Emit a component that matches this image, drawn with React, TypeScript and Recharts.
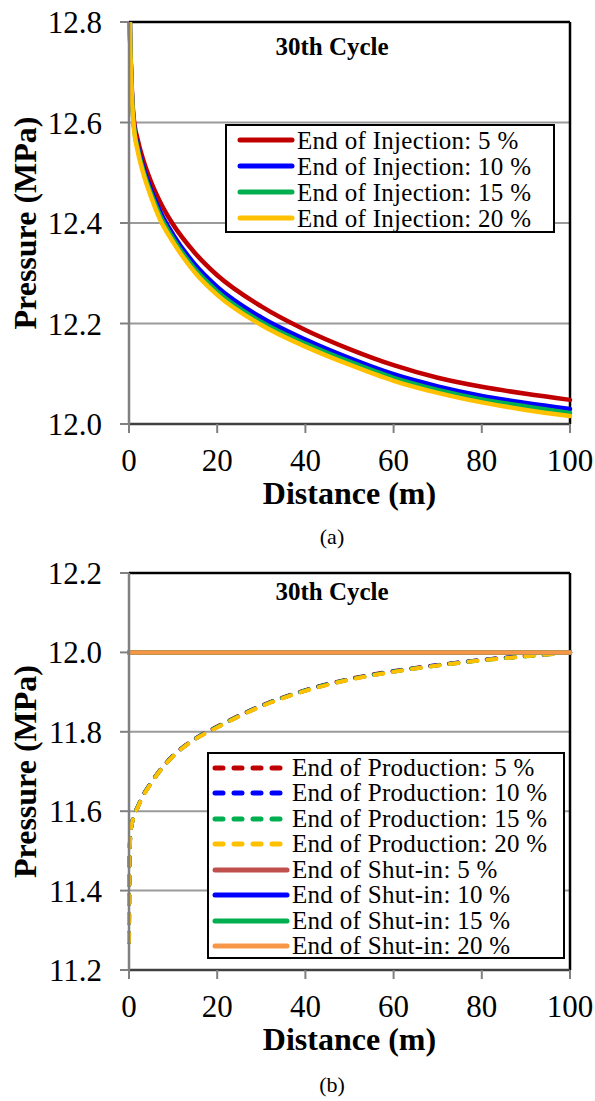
import React from 'react';
import {
  LineChart,
  Line,
  XAxis,
  YAxis,
  CartesianGrid,
  ReferenceLine,
  Legend,
} from 'recharts';

const FONT = '"Liberation Serif", "Times New Roman", serif';

// x positions (m)
const X_TICKS = [0, 20, 40, 60, 80, 100];

// (a) end of injection
const DIST_A = [0, 0.2, 0.5, 1, 2, 3, 5, 7, 10, 15, 20, 30, 40, 50, 60, 70, 80, 90, 100];
const INJ_5 = [13.1, 12.8, 12.7, 12.615, 12.565, 12.532, 12.482, 12.443, 12.397, 12.34, 12.296, 12.234, 12.187, 12.149, 12.117, 12.092, 12.074, 12.06, 12.048];
const INJ_10 = [13.1, 12.8, 12.695, 12.607, 12.552, 12.518, 12.466, 12.424, 12.377, 12.317, 12.273, 12.212, 12.168, 12.131, 12.099, 12.075, 12.056, 12.042, 12.03];
const INJ_15 = [13.1, 12.8, 12.693, 12.604, 12.547, 12.512, 12.459, 12.416, 12.369, 12.308, 12.264, 12.203, 12.16, 12.124, 12.092, 12.068, 12.049, 12.035, 12.022];
const INJ_20 = [13.1, 12.8, 12.69, 12.6, 12.542, 12.506, 12.452, 12.408, 12.362, 12.301, 12.257, 12.197, 12.154, 12.118, 12.086, 12.062, 12.043, 12.028, 12.016];
const Y_TICKS_A = [12.0, 12.2, 12.4, 12.6, 12.8];

// (b) end of production / shut-in
const DIST_B = [0, 0.05, 0.15, 0.4, 1, 2, 3, 5, 7, 10, 15, 20, 30, 40, 50, 60, 70, 80, 90, 100];
const PROD_5 = [11.27, 11.4, 11.5, 11.55, 11.585, 11.612, 11.636, 11.672, 11.703, 11.74, 11.783, 11.813, 11.866, 11.905, 11.933, 11.953, 11.968, 11.981, 11.991, 12.0];
const PROD_10 = [11.27, 11.4, 11.5, 11.55, 11.584, 11.611, 11.635, 11.671, 11.702, 11.739, 11.782, 11.812, 11.865, 11.904, 11.932, 11.952, 11.968, 11.981, 11.991, 12.0];
const PROD_15 = [11.27, 11.4, 11.5, 11.55, 11.584, 11.611, 11.635, 11.671, 11.702, 11.739, 11.782, 11.812, 11.865, 11.904, 11.932, 11.952, 11.967, 11.98, 11.99, 12.0];
const PROD_20 = [11.27, 11.4, 11.5, 11.549, 11.583, 11.61, 11.634, 11.67, 11.701, 11.738, 11.781, 11.811, 11.864, 11.903, 11.931, 11.951, 11.967, 11.98, 11.99, 12.0];
const DIST_SHUT = [0, 100];
const SHUT_5 = [12.0, 12.0];
const SHUT_10 = [12.0, 12.0];
const SHUT_15 = [12.0, 12.0];
const SHUT_20 = [12.0, 12.0];
const Y_TICKS_B = [11.2, 11.4, 11.6, 11.8, 12.0, 12.2];

const rows = (xs: number[], ys: number[]) => xs.map((d, i) => ({ d, p: ys[i] }));

type Series = { name: string; data: { d: number; p: number }[]; color: string; dashed?: boolean };

const SERIES_A: Series[] = [
  { name: 'End of Injection: 5 %', data: rows(DIST_A, INJ_5), color: '#C00000' },
  { name: 'End of Injection: 10 %', data: rows(DIST_A, INJ_10), color: '#0000FF' },
  { name: 'End of Injection: 15 %', data: rows(DIST_A, INJ_15), color: '#00B050' },
  { name: 'End of Injection: 20 %', data: rows(DIST_A, INJ_20), color: '#FFC000' },
];

const SERIES_B: Series[] = [
  { name: 'End of Production: 5 %', data: rows(DIST_B, PROD_5), color: '#C00000', dashed: true },
  { name: 'End of Production: 10 %', data: rows(DIST_B, PROD_10), color: '#0000FF', dashed: true },
  { name: 'End of Production: 15 %', data: rows(DIST_B, PROD_15), color: '#00B050', dashed: true },
  { name: 'End of Production: 20 %', data: rows(DIST_B, PROD_20), color: '#FFC000', dashed: true },
  { name: 'End of Shut-in: 5 %', data: rows(DIST_SHUT, SHUT_5), color: '#C0504D' },
  { name: 'End of Shut-in: 10 %', data: rows(DIST_SHUT, SHUT_10), color: '#0000FF' },
  { name: 'End of Shut-in: 15 %', data: rows(DIST_SHUT, SHUT_15), color: '#00B050' },
  { name: 'End of Shut-in: 20 %', data: rows(DIST_SHUT, SHUT_20), color: '#F79646' },
];

function LegendBox({ series, lineLen, lineLeft, rowH }: { series: Series[]; lineLen: number; lineLeft: number; rowH: number }) {
  return (
    <div style={{ border: '2px solid #000', background: '#fff', boxSizing: 'border-box', width: '100%', height: '100%', paddingTop: 1 }}>
      {series.map((s) => (
        <div key={s.name} style={{ display: 'flex', alignItems: 'center', height: rowH, overflow: 'visible' }}>
          <svg width={lineLen + 6} height={10} style={{ marginLeft: lineLeft - 3, flexShrink: 0 }}>
            <line
              x1={3}
              x2={lineLen + 3}
              y1={5}
              y2={5}
              stroke={s.color}
              strokeWidth={5}
              strokeLinecap="round"
              strokeDasharray={s.dashed ? '8 11' : undefined}
            />
          </svg>
          <span
            style={{
              display: 'inline-block',
              fontFamily: FONT,
              fontSize: 25,
              color: '#000',
              marginLeft: 2,
              whiteSpace: 'nowrap',
              lineHeight: `${Math.floor(rowH) - 1}px`,
              height: Math.floor(rowH) - 1,
              letterSpacing: 0.3,
            }}
          >
            {s.name}
          </span>
        </div>
      ))}
    </div>
  );
}

interface ChartProps {
  series: Series[];
  yDomain: [number, number];
  yTicks: number[];
  marginTop: number;
  marginBottom: number;
  legend: { left: number; top: number; width: number; height: number; lineLen: number; lineLeft: number; rowH: number };
}

function PressureChart({ series, yDomain, yTicks, marginTop, marginBottom, legend }: ChartProps) {
  return (
    <LineChart width={595} height={530} margin={{ top: marginTop, right: 25, left: 0, bottom: marginBottom }}>
      <CartesianGrid horizontal vertical={false} stroke="#9a9a9a" strokeWidth={2} />
      <XAxis
        dataKey="d"
        type="number"
        domain={[0, 100]}
        ticks={X_TICKS}
        height={90}
        tickSize={9}
        tickMargin={16}
        tick={{ fill: '#000', fontSize: 31, fontFamily: FONT }}
        tickLine={{ stroke: '#808080', strokeWidth: 2 }}
        axisLine={{ stroke: '#404040', strokeWidth: 2.5 }}
        allowDuplicatedCategory={false}
        label={{
          value: 'Distance (m)',
          position: 'insideBottom',
          offset: 10,
          style: { fontSize: 32, fontWeight: 'bold', fontFamily: FONT, fill: '#000' },
        }}
      />
      <YAxis
        type="number"
        domain={yDomain}
        ticks={yTicks}
        allowDataOverflow
        width={129}
        tickSize={9}
        tickMargin={18}
        tickFormatter={(v: number) => v.toFixed(1)}
        tick={{ fill: '#000', fontSize: 31, fontFamily: FONT }}
        tickLine={{ stroke: '#808080', strokeWidth: 2 }}
        axisLine={{ stroke: '#808080', strokeWidth: 2.5 }}
        label={{
          value: 'Pressure (MPa)',
          angle: -90,
          position: 'insideLeft',
          offset: 25,
          style: { textAnchor: 'middle', fontSize: 32, fontWeight: 'bold', fontFamily: FONT, fill: '#000' },
        }}
      />
      <ReferenceLine y={yDomain[1]} stroke="#000" strokeWidth={2.5} />
      <ReferenceLine x={100} stroke="#000" strokeWidth={2.5} />
      {series.map((s) => (
        <Line
          key={s.name}
          name={s.name}
          data={s.data}
          dataKey="p"
          type="monotone"
          stroke={s.color}
          strokeWidth={s.dashed ? 4 : 4.5}
          strokeDasharray={s.dashed ? '9 10' : undefined}
          strokeLinecap="round"
          dot={false}
          activeDot={false}
          isAnimationActive={false}
        />
      ))}
      <Legend
        layout="vertical"
        align="center"
        verticalAlign="middle"
        wrapperStyle={{ left: legend.left, top: legend.top, width: legend.width, height: legend.height }}
        content={() => <LegendBox series={series} lineLen={legend.lineLen} lineLeft={legend.lineLeft} rowH={legend.rowH} />}
      />
    </LineChart>
  );
}

const textStyle: React.CSSProperties = {
  position: 'absolute',
  left: 332,
  transform: 'translateX(-50%)',
  whiteSpace: 'nowrap',
  fontFamily: FONT,
  lineHeight: 1,
  color: '#000',
};

export default function App() {
  return (
    <div style={{ position: 'relative', width: 595, height: 1101, background: '#fff', overflow: 'hidden' }}>
      <style>{'body{margin:0}'}</style>
      <div style={{ position: 'absolute', left: 0, top: 0 }}>
        <PressureChart
          series={SERIES_A}
          yDomain={[12.0, 12.8]}
          yTicks={Y_TICKS_A}
          marginTop={22}
          marginBottom={16}
          legend={{ left: 225, top: 124, width: 330, height: 109, lineLen: 52, lineLeft: 13, rowH: 26 }}
        />
      </div>
      <div style={{ position: 'absolute', left: 0, top: 550 }}>
        <PressureChart
          series={SERIES_B}
          yDomain={[11.2, 12.2]}
          yTicks={Y_TICKS_B}
          marginTop={23}
          marginBottom={20}
          legend={{ left: 207, top: 202, width: 358, height: 207, lineLen: 72, lineLeft: 6, rowH: 25.5 }}
        />
      </div>
      <div style={{ ...textStyle, top: 34, fontSize: 25, fontWeight: 'bold' }}>30th Cycle</div>
      <div style={{ ...textStyle, top: 579, fontSize: 25, fontWeight: 'bold' }}>30th Cycle</div>
      <div style={{ ...textStyle, top: 526, fontSize: 22 }}>(a)</div>
      <div style={{ ...textStyle, top: 1074, fontSize: 22 }}>(b)</div>
    </div>
  );
}
